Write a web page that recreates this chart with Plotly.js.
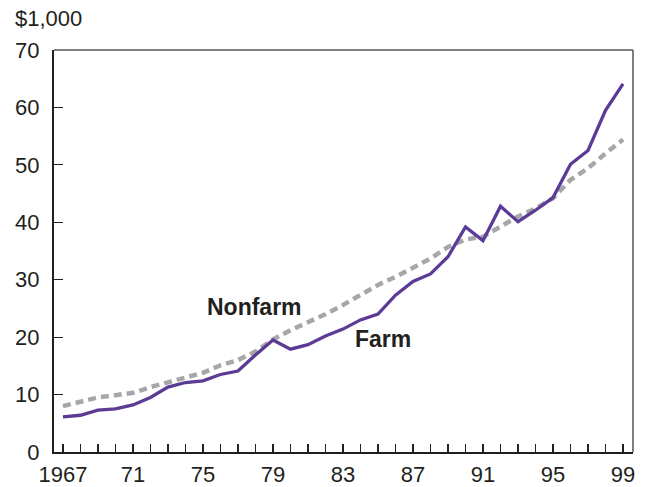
<!DOCTYPE html>
<html>
<head>
<meta charset="utf-8">
<script src="https://cdn.plot.ly/plotly-3.0.1.min.js"></script>
<style>html,body{margin:0;padding:0;background:#fff;}#chart{width:649px;height:487px;}</style>
</head>
<body>
<div id="chart"></div>
<script>
const years = [1967,1968,1969,1970,1971,1972,1973,1974,1975,1976,1977,1978,1979,1980,1981,1982,1983,1984,1985,1986,1987,1988,1989,1990,1991,1992,1993,1994,1995,1996,1997,1998,1999];
const farm = [6.1,6.4,7.3,7.5,8.2,9.5,11.3,12.1,12.4,13.5,14.1,16.9,19.5,17.9,18.7,20.2,21.4,23.0,24.0,27.3,29.7,31.0,34.0,39.2,36.8,42.8,40.1,42.1,44.3,50.1,52.5,59.5,64.1];
const nonfarm = [8.0,8.8,9.5,9.9,10.3,11.3,12.2,13.1,13.8,15.1,16.0,17.5,19.6,21.2,22.5,24.0,25.6,27.3,29.1,30.5,32.2,33.7,35.7,37.0,37.5,39.2,41.0,42.4,44.2,47.4,49.4,52.0,54.4];
const xTickVals = [1967,1971,1975,1979,1983,1987,1991,1995,1999];
const xTickText = ["1967","71","75","79","83","87","91","95","99"];
const yTickVals = [0,10,20,30,40,50,60,70];
const seriesLabels = [{text:"Nonfarm", x:1977.95, y:25.3}, {text:"Farm", x:1985.3, y:19.6}];

const FONT = "Liberation Sans, Arial, Helvetica, sans-serif";
const TXT = "#231f20";

const traces = [
  {x: years, y: nonfarm, type: "scatter", mode: "lines", name: "Nonfarm",
   line: {color: "#a7a7a9", width: 4.5, dash: "8px,5px"}},
  {x: years, y: farm, type: "scatter", mode: "lines", name: "Farm",
   line: {color: "#5b3b96", width: 3.3}}
];

const layout = {
  width: 649, height: 487,
  margin: {l: 54, r: 16, t: 50, b: 35, pad: 0},
  paper_bgcolor: "#fff", plot_bgcolor: "#fff",
  showlegend: false,
  font: {family: FONT, size: 22, color: TXT},
  xaxis: {
    range: [1966.49, 1999.57], showgrid: false, zeroline: false,
    showline: true, linecolor: "#231f20", linewidth: 2,
    tickmode: "array", tickvals: xTickVals, ticktext: xTickText,
    ticks: "inside", ticklen: 8, tickwidth: 1.2, tickcolor: "#231f20",
    minor: {dtick: 1, tick0: 1967, ticks: "inside", ticklen: 8, tickwidth: 1.2, tickcolor: "#231f20"},
    tickfont: {family: FONT, size: 22, color: TXT},
    ticklabelstandoff: 2, fixedrange: true
  },
  yaxis: {
    range: [0, 70], showgrid: false, zeroline: false,
    showline: true, linecolor: "#231f20", linewidth: 2,
    tickmode: "array", tickvals: yTickVals,
    ticks: "inside", ticklen: 9, tickwidth: 1.2, tickcolor: "#231f20",
    tickfont: {family: FONT, size: 22, color: TXT},
    ticklabelstandoff: 8, fixedrange: true
  },
  shapes: [
    {type: "line", xref: "paper", yref: "paper", x0: 0, x1: 1, y0: 1, y1: 1, line: {color: "#555", width: 1.5}},
    {type: "line", xref: "paper", yref: "paper", x0: 1, x1: 1, y0: 0, y1: 1, line: {color: "#555", width: 1.5}}
  ],
  annotations: seriesLabels.map(l => ({
    text: "<b>" + l.text + "</b>", x: l.x, y: l.y, xref: "x", yref: "y",
    showarrow: false, font: {family: FONT, size: 23, color: TXT}
  })).concat([
    {text: "$1,000", xref: "paper", yref: "paper", x: -0.071, y: 1.0, yshift: 32,
     xanchor: "left", yanchor: "middle", showarrow: false,
     font: {family: FONT, size: 22, color: TXT}}
  ])
};

Plotly.newPlot("chart", traces, layout, {displayModeBar: false, staticPlot: true});
</script>
</body>
</html>
